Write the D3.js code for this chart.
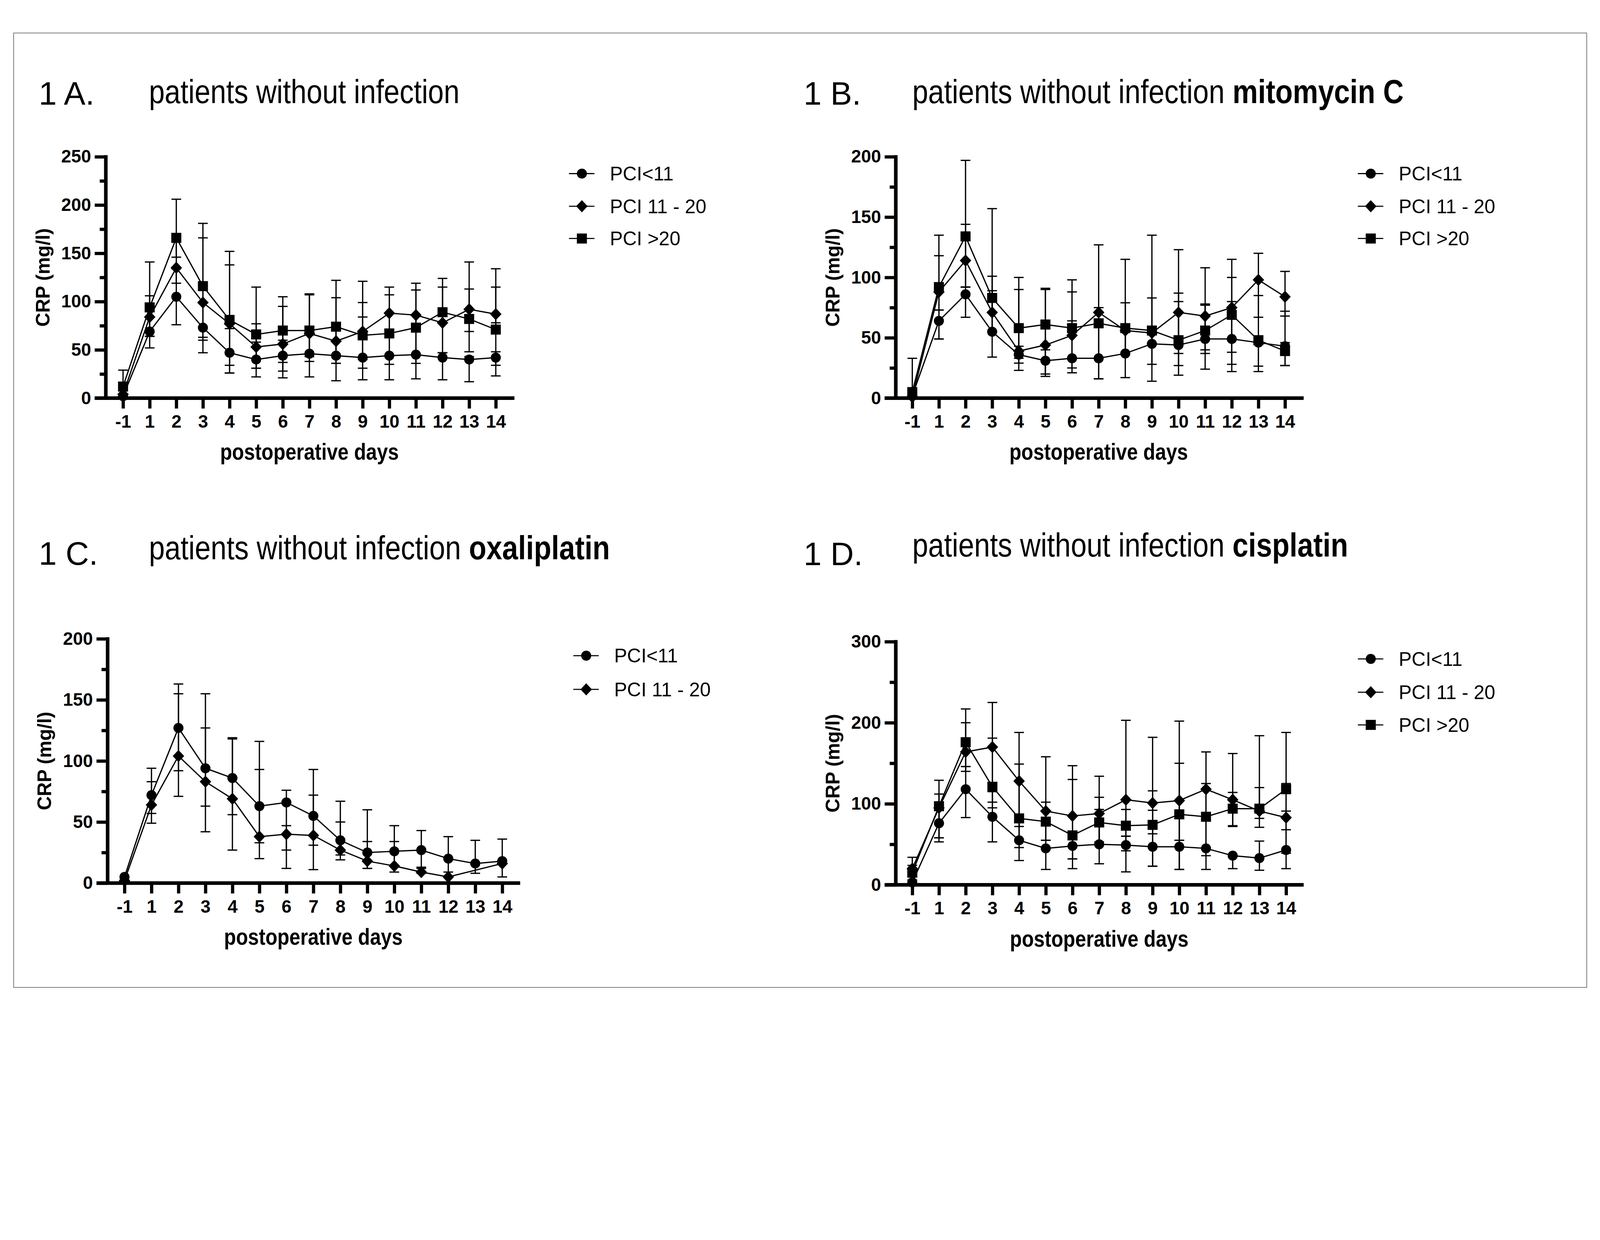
<!DOCTYPE html>
<html>
<head>
<meta charset="utf-8">
<script src="https://cdn.jsdelivr.net/npm/d3@7"></script>
<style>
  html, body { margin: 0; padding: 0; background: #fff; overflow: hidden; }
  svg { display: block; width: 100vw; height: 100vh; }
</style>
</head>
<body>
<svg id="chart" viewBox="0 0 4460 3175" preserveAspectRatio="xMidYMin meet"></svg>
<script>
// postoperative days shown on the x axis
var days = ['-1', '1', '2', '3', '4', '5', '6', '7', '8', '9', '10', '11', '12', '13', '14'];
var groupNames = ['PCI<11', 'PCI 11 - 20', 'PCI >20'];
var yLabel = 'CRP (mg/l)';
var xLabel = 'postoperative days';
var titleText = 'patients without infection';

// 1 A. all patients without infection
var aLowMean = [2, 69, 105, 73, 47, 40, 44, 46, 44, 42, 44, 45, 42, 40, 42];
var aLowLo = [2, 52, 76, 47, 26, 22, 28, 22, 18, 19, 19, 20, 19, 17, 23];
var aLowHi = [2, 84, 134, 99, 72, 58, 60, 70, 70, 84, 67, 73, 47, 43, 48];
var aMidMean = [4, 84, 135, 99, 77, 53, 56, 67, 59, 69, 88, 86, 78, 92, 87];
var aMidLo = [4, 64, 119, 63, 34, 31, 21, 43, 36, 40, 68, 73, 47, 69, 78];
var aMidHi = [4, 106, 165, 166, 138, 77, 95, 107, 104, 99, 107, 112, 115, 113, 115];
var aHighMean = [12, 94, 166, 116, 81, 66, 70, 70, 74, 65, 67, 73, 89, 82, 71];
var aHighLo = [0, 64, 146, 60, 26, 31, 37, 38, 36, 31, 35, 36, 78, 48, 34];
var aHighHi = [29, 141, 206, 181, 152, 115, 105, 108, 122, 121, 115, 119, 124, 141, 134];

// 1 B. mitomycin C
var bLowMean = [2, 64, 86, 55, 36, 31, 33, 33, 37, 45, 44, 49, 49, 46, 43];
var bLowLo = [2, 49, 67, 34, 23, 18, 21, 16, 17, 14, 27, 24, 22, 22, 27];
var bLowHi = [2, 73, 92, 89, 43, 40, 64, 62, 56, 54, 80, 77, 80, 48, 46];
var bMidMean = [1, 88, 114, 71, 39, 44, 52, 71, 56, 54, 71, 68, 75, 98, 84];
var bMidLo = [1, 73, 92, 55, 29, 20, 25, 16, 37, 45, 37, 40, 38, 67, 68];
var bMidHi = [1, 118, 144, 101, 90, 90, 88, 127, 79, 83, 123, 108, 100, 120, 105];
var bHighMean = [5, 92, 134, 83, 58, 61, 58, 62, 58, 56, 48, 56, 69, 48, 39];
var bHighLo = [0, 49, 92, 71, 33, 20, 21, 33, 37, 28, 19, 37, 28, 26.5, 27];
var bHighHi = [33, 135, 197, 157, 100, 91, 98, 75, 115, 135, 87, 78, 115, 85, 72];

// 1 C. oxaliplatin (no PCI >20 group, day 13 missing for PCI 11 - 20)
var cLowMean = [5, 72, 127, 94, 86, 63, 66, 55, 35, 25, 26, 27, 20, 16, 18];
var cLowLo = [5, 49, 92, 63, 56, 33, 27, 31, 23, 12, 14, 12, 9, 8, 5];
var cLowHi = [5, 94, 163, 155, 119, 93, 76, 93, 67, 60, 47, 43, 38, 35, 36];
var cMidMean = [2, 64, 104, 83, 69, 38, 40, 39, 27, 18, 14, 9, 5, null, 16];
var cMidLo = [2, 57, 71, 42, 27, 20, 12, 11, 19, 12, 9, 8, 5, null, 16];
var cMidHi = [2, 83, 155, 127, 118, 116, 47, 72, 50, 34, 34, 13, 5, null, 16];

// 1 D. cisplatin
var dLowMean = [3, 76, 118, 84, 55, 45, 48, 50, 49, 47, 47, 45, 36, 33, 43];
var dLowLo = [3, 58, 83, 53, 30, 19, 20, 26, 16, 23, 19, 19, 20, 18, 20];
var dLowHi = [3, 95, 146, 115, 80, 55, 61, 93, 60, 92, 55, 84, 36, 54, 91];
var dMidMean = [20, 95, 164, 170, 128, 91, 85, 88, 105, 101, 104, 118, 105, 91, 83];
var dMidLo = [6, 53, 146, 102, 72, 55, 32, 53, 60, 63, 55, 84, 73, 71, 39];
var dMidHi = [34, 112, 200, 225, 188, 158, 147, 134, 203, 182, 202, 164, 162, 120, 125];
var dHighMean = [15, 97, 176, 121, 82, 78, 61, 77, 73, 74, 87, 84, 94, 94, 118];
var dHighLo = [6, 58, 140, 95, 46, 55, 32, 50, 42, 23, 19, 36, 72, 82, 68];
var dHighHi = [24, 129, 217, 181, 149, 102, 130, 108, 93, 116, 150, 125, 114, 184, 188];

var font = '"Liberation Sans", Arial, Helvetica, sans-serif';

// diamond marker, a bit taller than wide like the Prism one
var diamond = {
  draw: function (ctx, size) {
    var w = 16, h = 17;
    ctx.moveTo(0, -h);
    ctx.lineTo(w, 0);
    ctx.lineTo(0, h);
    ctx.lineTo(-w, 0);
    ctx.closePath();
  }
};
var shapes = [
  d3.symbol().type(d3.symbolCircle).size(Math.PI * 14 * 14)(),
  d3.symbol().type(diamond)(),
  d3.symbol().type(d3.symbolSquare).size(28 * 28)()
];

var panels = [
  {
    tag: '1 A.', drug: '', tagPos: [108, 292], titlePos: [415, 287], titleW: 866,
    axisX: 295, axisY: 1110, yTop: 437, xFirst: 343, xLast: 1382, xEnd: 1434,
    yMax: 250, yStep: 50, legendX: 1622, legendY: [484, 575, 665],
    series: [[aLowMean, aLowLo, aLowHi], [aMidMean, aMidLo, aMidHi], [aHighMean, aHighLo, aHighHi]]
  },
  {
    tag: '1 B.', drug: 'mitomycin C', tagPos: [2240, 292], titlePos: [2543, 287], titleW: 1370,
    axisX: 2497, axisY: 1110, yTop: 437, xFirst: 2543, xLast: 3582, xEnd: 3634,
    yMax: 200, yStep: 50, legendX: 3821, legendY: [484, 575, 665],
    series: [[bLowMean, bLowLo, bLowHi], [bMidMean, bMidLo, bMidHi], [bHighMean, bHighLo, bHighHi]]
  },
  {
    tag: '1 C.', drug: 'oxaliplatin', tagPos: [108, 1574], titlePos: [415, 1559], titleW: 1285,
    axisX: 300, axisY: 2462, yTop: 1781, xFirst: 347, xLast: 1400, xEnd: 1450,
    yMax: 200, yStep: 50, legendX: 1634, legendY: [1828, 1922],
    series: [[cLowMean, cLowLo, cLowHi], [cMidMean, cMidLo, cMidHi]]
  },
  {
    tag: '1 D.', drug: 'cisplatin', tagPos: [2240, 1576], titlePos: [2543, 1552], titleW: 1215,
    axisX: 2497, axisY: 2467, yTop: 1789, xFirst: 2543, xLast: 3585, xEnd: 3634,
    yMax: 300, yStep: 100, legendX: 3821, legendY: [1837, 1930, 2021],
    series: [[dLowMean, dLowLo, dLowHi], [dMidMean, dMidLo, dMidHi], [dHighMean, dHighLo, dHighHi]]
  }
];

var svg = d3.select('#chart');
svg.append('rect').attr('width', 4460).attr('height', 3175).attr('fill', '#fff');

// thin frame round the whole figure
svg.append('rect')
  .attr('x', 38).attr('y', 92).attr('width', 4385).attr('height', 2661)
  .attr('fill', 'none').attr('stroke', '#444').attr('stroke-width', 1.5);

// squeeze a text horizontally to the width it has in the figure
function squeeze(t, x, y, width) {
  var w = t.node().getComputedTextLength();
  t.attr('transform', 'translate(' + x + ',' + y + ') scale(' + (width / w) + ',1)');
}

panels.forEach(drawPanel);

function drawPanel(p) {
  var g = svg.append('g');

  var x = d3.scalePoint().domain(days).range([p.xFirst, p.xLast]);
  var y = d3.scaleLinear().domain([0, p.yMax]).range([p.axisY, p.yTop]);

  // panel tag and title
  g.append('text')
    .attr('x', p.tagPos[0]).attr('y', p.tagPos[1])
    .attr('font-family', font).attr('font-size', 90)
    .text(p.tag);
  var title = g.append('text')
    .attr('font-family', font).attr('font-size', 92);
  title.append('tspan').text(titleText);
  if (p.drug) {
    title.append('tspan').text(' ');
    title.append('tspan').attr('font-weight', 'bold').text(p.drug);
  }
  squeeze(title, p.titlePos[0], p.titlePos[1], p.titleW);

  // y axis: labelled major ticks and shorter minor ticks
  var majors = d3.range(0, p.yMax + 1, p.yStep);
  var minors = d3.range(p.yStep / 2, p.yMax, p.yStep);

  var gMinor = g.append('g')
    .attr('transform', 'translate(' + p.axisX + ',0)')
    .call(d3.axisLeft(y).tickValues(minors).tickSize(17).tickFormat(''));
  var gMajor = g.append('g')
    .attr('transform', 'translate(' + p.axisX + ',0)')
    .call(d3.axisLeft(y).tickValues(majors).tickSize(31).tickPadding(10));
  var gX = g.append('g')
    .attr('transform', 'translate(0,' + p.axisY + ')')
    .call(d3.axisBottom(x).tickSize(29).tickPadding(18));

  [gMinor, gMajor, gX].forEach(function (a) {
    a.select('.domain').remove();
    a.attr('font-family', font).attr('font-size', 50).attr('font-weight', 'bold');
    a.selectAll('.tick line').attr('stroke', '#000').attr('stroke-width', 9);
    a.selectAll('.tick text').attr('fill', '#000');
  });

  // axis lines drawn heavy, x axis runs a little past the y axis
  g.append('line')
    .attr('x1', p.axisX).attr('x2', p.axisX)
    .attr('y1', p.yTop - 4.5).attr('y2', p.axisY)
    .attr('stroke', '#000').attr('stroke-width', 10);
  g.append('line')
    .attr('x1', p.axisX - 31).attr('x2', p.xEnd)
    .attr('y1', p.axisY).attr('y2', p.axisY)
    .attr('stroke', '#000').attr('stroke-width', 10);

  // axis titles
  g.append('text')
    .attr('transform', 'translate(' + (p.axisX - 157) + ',' + (p.yTop + p.axisY) / 2 + ') rotate(-90)')
    .attr('text-anchor', 'middle')
    .attr('font-family', font).attr('font-size', 54).attr('font-weight', 'bold')
    .text(yLabel);
  var xl = g.append('text')
    .attr('text-anchor', 'middle')
    .attr('font-family', font).attr('font-size', 64).attr('font-weight', 'bold')
    .text(xLabel);
  squeeze(xl, (p.xFirst + p.xLast) / 2, p.axisY + 172, 498);

  var line = d3.line()
    .x(function (d) { return x(d.day); })
    .y(function (d) { return y(d.v); });

  var rows = p.series.map(function (s) {
    return days.map(function (day, i) {
      return { day: day, v: s[0][i], lo: s[1][i], hi: s[2][i] };
    }).filter(function (d) { return d.v != null; });
  });

  rows.forEach(function (pts) {
    g.append('path')
      .datum(pts)
      .attr('d', line)
      .attr('fill', 'none').attr('stroke', '#000').attr('stroke-width', 3.5);
  });

  rows.forEach(function (pts) {
    var eb = g.append('g').attr('stroke', '#000').attr('stroke-width', 3.5);
    pts.forEach(function (d) {
      var cx = x(d.day);
      [d.lo, d.hi].forEach(function (end) {
        if (end == null || end === d.v) return;
        eb.append('line')
          .attr('x1', cx).attr('x2', cx)
          .attr('y1', y(d.v)).attr('y2', y(end));
        eb.append('line')
          .attr('x1', cx - 13.5).attr('x2', cx + 13.5)
          .attr('y1', y(end)).attr('y2', y(end));
      });
    });
  });

  rows.forEach(function (pts, k) {
    g.append('g').selectAll('path')
      .data(pts)
      .join('path')
      .attr('d', shapes[k])
      .attr('transform', function (d) { return 'translate(' + x(d.day) + ',' + y(d.v) + ')'; })
      .attr('fill', '#000');
  });

  // legend
  p.series.forEach(function (s, k) {
    var ly = p.legendY[k];
    g.append('line')
      .attr('x1', p.legendX - 36).attr('x2', p.legendX + 35)
      .attr('y1', ly).attr('y2', ly)
      .attr('stroke', '#000').attr('stroke-width', 3);
    g.append('path')
      .attr('d', shapes[k])
      .attr('transform', 'translate(' + p.legendX + ',' + ly + ')')
      .attr('fill', '#000');
    g.append('text')
      .attr('x', p.legendX + 78).attr('y', ly + 19)
      .attr('font-family', font).attr('font-size', 54)
      .text(groupNames[k]);
  });
}
</script>
</body>
</html>
